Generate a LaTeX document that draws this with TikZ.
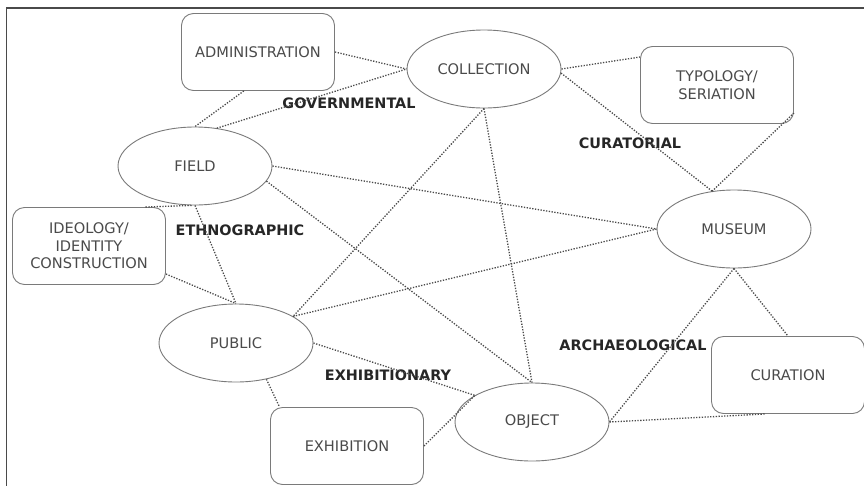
\documentclass[tikz,border=0pt]{standalone}
\usepackage{fontspec}
\setmainfont{DejaVu Sans}
\usepackage {tikz}
\usetikzlibrary{shapes, positioning}

\definecolor{inkgray}{HTML}{4A4A4A}
\definecolor{rimgray}{HTML}{7A7A7A}

\begin{document}
\begin{tikzpicture}[x=1pt, y=-1pt,
  oval/.style={ellipse, draw=rimgray, line width=0.9pt, inner sep=0pt,
    minimum width=154pt, minimum height=78pt, text=inkgray,
    font=\fontsize{14.6}{17}\selectfont},
  box/.style={rectangle, rounded corners=12pt, draw=rimgray, line width=0.9pt,
    minimum width=153pt, minimum height=77pt, align=center, text=inkgray,
    font=\fontsize{14.6}{17.5}\selectfont},
  tag/.style={font=\bfseries\fontsize{14.4}{17}\selectfont, text=black!85},
  link/.style={draw=inkgray, dash pattern=on 1.3pt off 1.5pt, line width=1.3pt}]

\useasboundingbox (0,0) rectangle (864,485);
\draw [inkgray, line width=1.5pt] (6.5,490) -- (6.5,8) -- (870,8);

% the six ovals
\node [oval] (coll) at (484,69) {COLLECTION};
\node [oval] (field) at (195,166) {FIELD};
\node [oval] (mus) at (734,229) {MUSEUM};
\node [oval] (pub) at (236,343) {PUBLIC};
\node [oval] (obj) at (532,422) {OBJECT};

% the boxes
\node [box] (admin) at (258,52) {ADMINISTRATION};
\node [box] (typo) at (717,85) {TYPOLOGY/\\SERIATION};
\node [box] (ideo) at (89,246) {IDEOLOGY/\\IDENTITY\\CONSTRUCTION};
\node [box] (exhib) at (347,446) {EXHIBITION};
\node [box] (cur) at (788,375) {CURATION};

% bold labels
\node [tag] (gov) at (349,103) {GOVERNMENTAL};
\node [tag] (cura) at (630,143) {CURATORIAL};
\node [tag] (ethno) at (240,230) {ETHNOGRAPHIC};
\node [tag] (exhibn) at (388,375) {EXHIBITIONARY};
\node [tag] (arch) at (633,345) {ARCHAEOLOGICAL};

% dotted links
\path [link] (admin.east) edge (coll.180);
\path [link] (admin.-110) edge (field.90);
\path [link] (field.60) edge (coll.180);
\path [link] (coll.0) edge (typo.160);
\path [link] (coll.-3) edge (mus.120);
\path [link] (typo.-20) edge (mus.120);
\path [link] (field.0) edge (mus.180);
\path [link] (field.-12) edge (obj.90);
\path [link] (field.-90) edge (pub.90);
\path [link] (field.-95) edge (ideo.35);
\path [link] (ideo.-20) edge (pub.90);
\path [link] (coll.-90) edge (pub.25);
\path [link] (coll.-90) edge (obj.90);
\path [link] (pub.25) edge (mus.180);
\path [link] (pub.0) edge (obj.155);
\path [link] (pub.-50) edge (exhib.150);
\path [link] (exhib.0) edge (obj.155);
\path [link] (mus.-90) edge (obj.0);
\path [link] (mus.-90) edge (cur.90);
\path [link] (obj.0) edge (cur.-120);

\end{tikzpicture}
\end{document}
